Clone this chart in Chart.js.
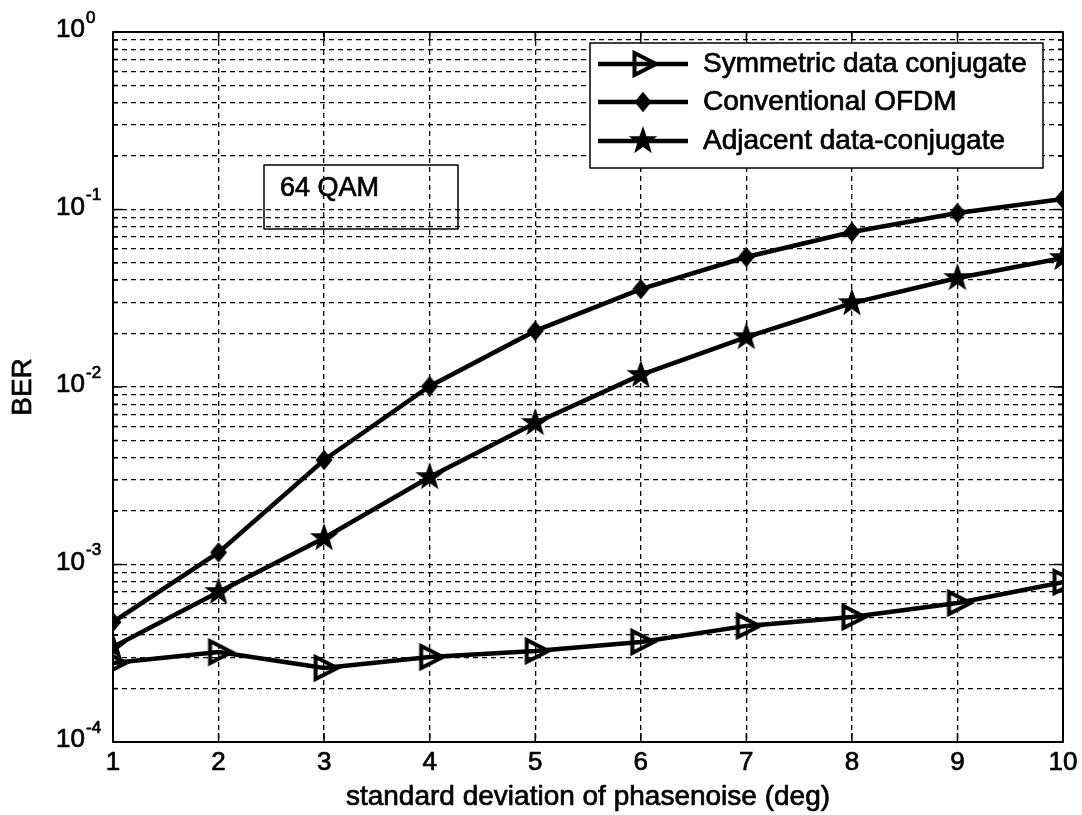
<!DOCTYPE html>
<html>
<head>
<meta charset="utf-8">
<script src="https://cdn.jsdelivr.net/npm/chart.js@4.4.1/dist/chart.umd.min.js"></script>
<style>
  html, body { margin: 0; padding: 0; background: #fff; }
  #wrap { width: 1082px; height: 815px; }
</style>
</head>
<body>
<div id="wrap"><canvas id="c" width="1082" height="815"></canvas></div>
<script>
// Phase-noise standard deviation (deg) and measured BER for each scheme
const phaseNoiseStd = [1, 2, 3, 4, 5, 6, 7, 8, 9, 10];
const berSymmetric = [2.79e-4, 3.21e-4, 2.61e-4, 3.01e-4, 3.26e-4, 3.66e-4, 4.51e-4, 5.06e-4, 6.07e-4, 7.96e-4];
const berConventional = [4.74e-4, 1.17e-3, 3.88e-3, 1.01e-2, 2.07e-2, 3.56e-2, 5.4e-2, 7.47e-2, 9.55e-2, 0.1146];
const berAdjacent = [3.43e-4, 7.0e-4, 1.41e-3, 3.11e-3, 6.27e-3, 1.17e-2, 1.91e-2, 2.97e-2, 4.11e-2, 5.33e-2];
const seriesNames = ['Symmetric data conjugate', 'Conventional OFDM', 'Adjacent data-conjugate'];
const xTickLabels = ['1', '2', '3', '4', '5', '6', '7', '8', '9', '10'];
const yExponents = [0, -1, -2, -3, -4];
const xTitle = 'standard deviation of phasenoise (deg)';
const yTitle = 'BER';
const noteText = '64 QAM';

const FONT = '"Liberation Sans", Arial, Helvetica, sans-serif';

// Marker bitmaps (MATLAB-like '>', 'd' and 'p' markers)
function makeMarker(kind) {
  const s = 44;
  const c = document.createElement('canvas');
  c.width = s; c.height = s;
  const g = c.getContext('2d');
  g.translate(s / 2, s / 2);
  g.strokeStyle = '#000';
  g.fillStyle = '#000';
  g.lineJoin = 'miter';
  g.beginPath();
  if (kind === 'tri') {
    g.moveTo(-8.5, -11);
    g.lineTo(-8.5, 11);
    g.lineTo(13, 0);
    g.closePath();
    g.lineWidth = 4;
    g.stroke();
  } else if (kind === 'diamond') {
    g.moveTo(0, -9);
    g.lineTo(7.5, 0);
    g.lineTo(0, 9);
    g.lineTo(-7.5, 0);
    g.closePath();
    g.fill();
    g.lineWidth = 1.5;
    g.stroke();
  } else {
    const R = 15, r = 6;
    for (let i = 0; i < 10; i++) {
      const ang = -Math.PI / 2 + i * Math.PI / 5;
      const rad = i % 2 === 0 ? R : r;
      const px = rad * Math.cos(ang), py = rad * Math.sin(ang);
      if (i === 0) g.moveTo(px, py); else g.lineTo(px, py);
    }
    g.closePath();
    g.fill();
  }
  return c;
}

const markers = [makeMarker('tri'), makeMarker('diamond'), makeMarker('star')];
const seriesValues = [berSymmetric, berConventional, berAdjacent];

const datasets = seriesValues.map((vals, i) => ({
  label: seriesNames[i],
  data: phaseNoiseStd.map((x, k) => ({ x: x, y: vals[k] })),
  borderColor: '#000',
  backgroundColor: '#000',
  borderWidth: 4.5,
  pointStyle: markers[i],
  pointRadius: 10,
  tension: 0,
  fill: false
}));

// Full log grid: 1..9 x 10^e for each decade
function logTicks() {
  const out = [];
  for (let e = -4; e < 0; e++) {
    for (let m = 1; m <= 9; m++) out.push({ value: m * Math.pow(10, e) });
  }
  out.push({ value: 1 });
  return out;
}

function line(ctx, x1, y1, x2, y2) {
  ctx.beginPath();
  ctx.moveTo(x1, y1);
  ctx.lineTo(x2, y2);
  ctx.stroke();
}

// slightly heavy text, like a printed figure
function text(ctx, str, x, y) {
  ctx.fillText(str, x, y);
  ctx.lineWidth = 0.7;
  ctx.strokeText(str, x, y);
}

const decorations = {
  id: 'decorations',
  afterDraw(chart) {
    const { ctx, chartArea: a, scales } = chart;
    const xs = scales.x, ys = scales.y;
    ctx.save();
    ctx.setLineDash([]);
    ctx.strokeStyle = '#000';
    ctx.fillStyle = '#000';
    ctx.lineJoin = 'round';

    // inward tick marks
    ctx.lineWidth = 1.5;
    ys.ticks.forEach(t => {
      const py = ys.getPixelForValue(t.value);
      const lg = Math.log10(t.value);
      const len = Math.abs(lg - Math.round(lg)) < 1e-9 ? 9 : 5;
      line(ctx, a.left, py, a.left + len, py);
      line(ctx, a.right, py, a.right - len, py);
    });
    xs.ticks.forEach(t => {
      const px = xs.getPixelForValue(t.value);
      line(ctx, px, a.bottom, px, a.bottom - 9);
      line(ctx, px, a.top, px, a.top + 9);
    });

    // axes box
    ctx.lineWidth = 2;
    ctx.strokeRect(a.left, a.top, a.right - a.left, a.bottom - a.top);

    // x tick labels
    ctx.font = '26px ' + FONT;
    ctx.textAlign = 'center';
    ctx.textBaseline = 'middle';
    phaseNoiseStd.forEach((v, i) => {
      text(ctx, xTickLabels[i], xs.getPixelForValue(v), a.bottom + 21);
    });

    // y tick labels with superscript exponent
    yExponents.forEach(e => {
      const py = ys.getPixelForValue(Math.pow(10, e));
      ctx.font = '26px ' + FONT;
      ctx.textAlign = 'right';
      ctx.textBaseline = 'middle';
      text(ctx, '10', 85, py - 2);
      ctx.font = '17px ' + FONT;
      ctx.textAlign = 'left';
      text(ctx, String(e), 86, py - 14);
    });

    // axis titles
    ctx.font = '28px ' + FONT;
    ctx.textAlign = 'center';
    ctx.textBaseline = 'middle';
    text(ctx, xTitle, (a.left + a.right) / 2, 797);
    ctx.save();
    ctx.translate(23, (a.top + a.bottom) / 2);
    ctx.rotate(-Math.PI / 2);
    text(ctx, yTitle, 0, 0);
    ctx.restore();

    // annotation box
    ctx.lineWidth = 1.5;
    ctx.strokeRect(264, 165, 194, 64);
    ctx.font = '27px ' + FONT;
    ctx.textAlign = 'left';
    text(ctx, noteText, 280, 189);

    // legend
    const lx = 590, ly = 43, lw = 453, lh = 125;
    ctx.fillStyle = '#fff';
    ctx.fillRect(lx, ly, lw, lh);
    ctx.strokeStyle = '#000';
    ctx.lineWidth = 1.5;
    ctx.strokeRect(lx, ly, lw, lh);
    const rows = [64, 102, 141];
    seriesNames.forEach((name, i) => {
      const ry = rows[i];
      ctx.lineWidth = 4.5;
      line(ctx, 598, ry, 688, ry);
      const m = markers[i];
      ctx.drawImage(m, 643 - m.width / 2, ry - m.height / 2);
      ctx.fillStyle = '#000';
      ctx.font = '28px ' + FONT;
      ctx.textAlign = 'left';
      ctx.textBaseline = 'middle';
      text(ctx, name, 703, ry);
    });
    ctx.restore();
  }
};

new Chart(document.getElementById('c'), {
  type: 'line',
  data: { datasets: datasets },
  options: {
    responsive: false,
    animation: false,
    devicePixelRatio: 1,
    layout: { padding: { left: 113, top: 32, right: 19, bottom: 73 } },
    plugins: { legend: { display: false }, tooltip: { enabled: false } },
    scales: {
      x: {
        type: 'linear',
        min: 1,
        max: 10,
        ticks: { display: false, stepSize: 1 },
        grid: { color: '#000', lineWidth: 1.3, drawTicks: false },
        border: { display: false, dash: [5, 4] }
      },
      y: {
        type: 'logarithmic',
        min: 1e-4,
        max: 1,
        afterBuildTicks: scale => { scale.ticks = logTicks(); },
        ticks: { display: false },
        grid: { color: '#000', lineWidth: 1.3, drawTicks: false },
        border: { display: false, dash: [5, 4] }
      }
    }
  },
  plugins: [decorations]
});
</script>
</body>
</html>
